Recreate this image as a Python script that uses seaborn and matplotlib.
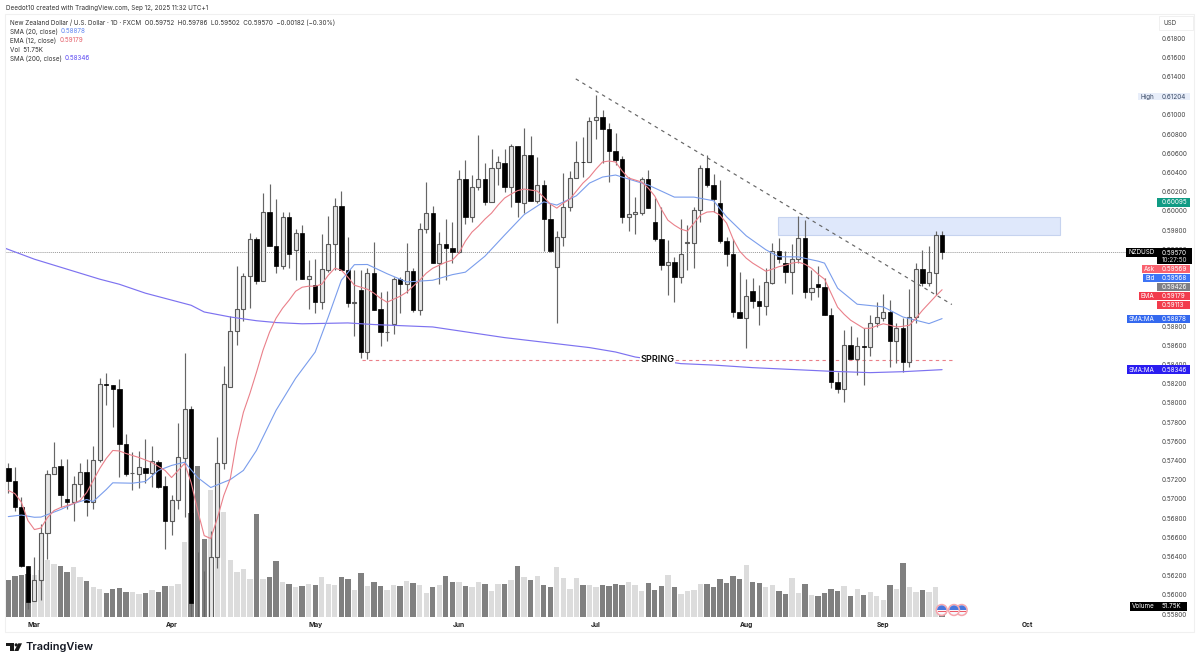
import numpy as np
import pandas as pd
import matplotlib
matplotlib.use('Agg')
import matplotlib.pyplot as plt
from matplotlib.patches import Rectangle, Circle, Polygon, Wedge
from matplotlib.transforms import Affine2D
import seaborn as sns

# daily candles
open_prices = [
    .57317, .57191, .56913, .56304, .55939, .56158, .56641, .57254, .57337, .57003,
    .56965, .57150, .57275, .56972, .57400, .58193, .58182, .58141, .57567, .57267,
    .57264, .57319, .57267, .57382, .57139, .56774, .56983, .57421, .57932, .5565,
    .5560, .5550, .56391, .57369, .58162, .58746, .58976, .59323, .59706, .59268,
    .59988, .59633, .59427, .59936, .59591, .59772, .59289, .59226, .59049, .59383,
    .59654, .60054, .59383, .59044, .59174, .58530, .59351, .58976, .58734, .58819,
    .59289, .59236, .59375, .58965, .59810, .59977, .59459, .59654, .59612, .59574,
    .60332, .59939, .60249, .60332, .60095, .60447, .60502, .60252, .60676, .60082,
    .60583, .60106, .60270, .59915, .59417, .59727, .60043, .60343, .60513, .60510,
    .60948, .60976, .60854, .60627, .60541, .59936, .59967, .59980, .60332, .59887,
    .59706, .59438, .59463, .59309, .59670, .59667, .60009, .60450, .60270, .60085,
    .59685, .59549, .58944, .58882, .59166, .59062, .59007, .59250, .59581, .59459,
    .59362, .59494, .59716, .59153, .59240, .59212, .58913, .58217, .58148, .58607,
    .58461, .58597, .58579, .58833, .58889, .58944, .58645, .58777, .58426, .58895,
    .59396, .59244, .59354, .59752]
high_prices = [
    .57369, .57327, .57014, .56304, .56398, .56743, .57296, .57591, .57410, .57420,
    .57243, .57369, .57410, .57546, .58256, .58308, .58182, .58245, .57671, .57483,
    .57494, .57619, .57549, .57400, .57243, .57035, .57789, .58520, .57963, .56445,
    .56252, .56669, .57643, .58381, .58903, .59424, .59354, .59772, .59727, .60186,
    .60280, .60123, .59991, .59991, .59810, .59852, .59487, .59497, .59758, .59949,
    .60134, .60210, .59730, .59383, .59383, .59407, .59678, .59153, .59166, .59313,
    .59313, .59667, .59403, .59876, .60304, .60050, .59782, .59915, .59887, .60426,
    .60530, .60374, .60791, .60499, .60645, .60572, .60645, .60697, .60676, .60867,
    .60781, .60562, .60322, .60082, .59793, .60398, .60416, .60732, .60770, .60979,
    .61204, .61052, .60920, .60815, .60572, .60356, .60144, .60356, .60426, .60134,
    .60043, .59696, .59521, .59915, .59852, .60043, .60478, .60583, .60384, .60322,
    .59730, .59706, .59365, .59289, .59302, .59226, .59403, .59664, .59716, .59581,
    .59654, .59949, .59904, .59383, .59427, .59299, .58986, .58321, .58756, .58798,
    .58683, .58777, .58913, .59052, .59139, .59070, .58830, .58882, .59184, .59456,
    .59591, .59633, .59790, .59786]
low_prices = [
    .57066, .56878, .56287, .55856, .55939, .55949, .56377, .57254, .56913, .56899,
    .56764, .57014, .56816, .56899, .57379, .57974, .57744, .57223, .57233, .57087,
    .57108, .57160, .57121, .57108, .56482, .56628, .56899, .56808, .55762, .5500,
    .5490, .5500, .56283, .57306, .58162, .58600, .58850, .58986, .59236, .59268,
    .59633, .59351, .59393, .59403, .59278, .59289, .58976, .58934, .58976, .59362,
    .59383, .59383, .59000, .58697, .58464, .58454, .58965, .58593, .58645, .58715,
    .58934, .59143, .58944, .58913, .59772, .59459, .59236, .59278, .59459, .59560,
    .59863, .59887, .60217, .60061, .60095, .60270, .60200, .60043, .59939, .59980,
    .60106, .60082, .59584, .59574, .58829, .59633, .59998, .60343, .60356, .60510,
    .60750, .60499, .60304, .60478, .59876, .59793, .59758, .59956, .60029, .59688,
    .59383, .59122, .59052, .59247, .59383, .59403, .59887, .60252, .59991, .59667,
    .59424, .58892, .58882, .58569, .58986, .58809, .58913, .59236, .59459, .59250,
    .59132, .59459, .59090, .59070, .59101, .58913, .58151, .58102, .58005, .58461,
    .58287, .58182, .58485, .58791, .58854, .58373, .58412, .58321, .58373, .58830,
    .59216, .59216, .59122, .59502]
close_prices = [
    .57191, .56920, .56304, .55928, .56158, .56641, .57254, .57330, .57045, .56965,
    .57150, .57275, .56972, .57400, .58193, .58188, .58141, .57567, .57264, .57272,
    .57327, .57267, .57390, .57121, .56774, .56993, .57431, .57932, .55911, .5545,
    .5530, .56391, .57369, .58193, .58746, .58976, .59323, .59706, .59268, .59988,
    .59633, .59427, .59936, .59549, .59772, .59289, .59323, .59049, .59393, .59654,
    .60054, .59383, .59038, .59049, .58530, .59351, .58965, .58736, .58739, .59289,
    .59236, .59375, .58965, .59810, .59977, .59459, .59654, .59612, .59574, .60332,
    .59939, .60252, .60332, .60095, .60450, .60510, .60252, .60676, .60095, .60583,
    .60106, .60273, .59915, .59584, .59727, .60043, .60346, .60513, .60508, .60940,
    .60976, .60851, .60627, .60530, .59936, .59967, .59988, .60332, .60029, .59706,
    .59435, .59463, .59309, .59549, .59675, .60009, .60450, .60270, .60123, .59685,
    .59549, .58944, .58882, .59114, .59062, .59007, .59257, .59584, .59494, .59362,
    .59494, .59716, .59153, .59195, .59212, .58913, .58217, .58148, .58607, .58461,
    .58597, .58582, .58833, .58895, .58944, .58645, .58777, .58426, .58895, .59396,
    .59244, .59359, .59748, .59570]
# volume in thousands
volumes = [
    183, 202, 207, 210, 205, 230, 280, 263, 253, 222,
    247, 197, 178, 145, 138, 117, 138, 143, 123, 122,
    113, 118, 132, 122, 152, 152, 160, 372, 518, 750,
    388, 633, 425, 523, 280, 220, 235, 188, 510, 188,
    198, 275, 170, 160, 148, 152, 162, 158, 195, 160,
    155, 197, 187, 132, 215, 152, 173, 152, 130, 157,
    152, 177, 168, 157, 117, 147, 157, 200, 170, 170,
    150, 147, 172, 162, 127, 162, 160, 183, 250, 195,
    182, 202, 155, 147, 245, 190, 135, 190, 155, 157,
    148, 157, 152, 160, 155, 173, 155, 127, 165, 133,
    152, 207, 145, 112, 127, 132, 160, 163, 147, 188,
    168, 200, 188, 258, 170, 165, 147, 155, 128, 113,
    192, 118, 160, 107, 103, 115, 138, 127, 152, 102,
    135, 107, 122, 103, 82, 157, 137, 268, 147, 123,
    130, 122, 147, 51.75]
ema12 = [
    .57087, .57055, .56965, .56774, .56680, .56696, .56805, .56878, .56909, .56930,
    .56951, .56983, .57066, .57191, .57316, .57421, .57504, .57499, .57473, .57452,
    .57431, .57405, .57379, .57337, .57296, .57222, .57296, .57369, .57170, .56878,
    .56617, .56586, .56795, .57035, .57212, .57609, .57901, .58099, .58318, .58548,
    .58736, .58882, .58986, .59070, .59163, .59205, .59216, .59216, .59236, .59330,
    .59403, .59383, .59310, .59226, .59205, .59184, .59143, .59090, .59049, .59080,
    .59111, .59153, .59216, .59278, .59351, .59403, .59435, .59466, .59487, .59560,
    .59685, .59779, .59842, .59915, .59977, .60061, .60134, .60176, .60212, .60228,
    .60217, .60207, .60144, .60071, .60029, .60082, .60123, .60207, .60290, .60353,
    .60436, .60510, .60520, .60510, .60416, .60343, .60322, .60301, .60238, .60155,
    .60019, .59904, .59852, .59810, .59790, .59873, .59956, .59988, .59993, .59956,
    .59873, .59706, .59581, .59508, .59456, .59414, .59372, .59393, .59419, .59435,
    .59456, .59466, .59445, .59403, .59341, .59289, .59143, .58997, .58923, .58861,
    .58819, .58777, .58777, .58803, .58824, .58809, .58791, .58798, .58809, .58882,
    .58965, .59038, .59111, .59179]
sma20_bars = [
    0, 2, 4, 5, 8, 10, 12, 13, 15, 16, 19, 21, 23, 25, 27, 29, 31, 34, 36, 38, 41, 44,
    47, 49, 51, 53, 55, 58, 61, 65, 68, 70, 73, 76, 79, 82, 84, 87, 89, 91, 93, 95,
    98, 102, 105, 108, 110, 113, 116, 118, 121, 124, 125, 127, 130, 134, 137, 139, 141, 143]
sma20 = [
    .56815, .56831, .56808, .56810, .56888, .56951, .56993, .56972, .57097, .57167,
    .57163, .57181, .57296, .57348, .57382, .57222, .57118, .57201, .57296, .57504,
    .57922, .58256, .58530, .58895, .59278, .59440, .59442, .59346, .59260, .59278,
    .59336, .59362, .59529, .59748, .59962, .60095, .60061, .60158, .60290, .60353,
    .60374, .60332, .60270, .60144, .60144, .60106, .59939, .59741, .59596, .59523,
    .59521, .59477, .59456, .59195, .59028, .59000, .58895, .58861, .58826, .58878]
sma200_bars = [
    -0.4, 4, 14, 17, 21, 28, 30, 34, 38, 41, 45, 52, 56, 65, 76, 89, 93, 96, 103, 108,
    114, 126, 132, 137, 143]
sma200 = [
    .59609, .59497, .59289, .59236, .59143, .59017, .58947, .58895, .58856, .58837,
    .58824, .58833, .58816, .58791, .58680, .58576, .58530, .58478, .58409, .58394,
    .58367, .58329, .58315, .58325, .58346]

month_bars = [4, 25, 47, 69, 90, 113, 134, 156]
month_labels = ['Mar', 'Apr', 'May', 'Jun', 'Jul', 'Aug', 'Sep', 'Oct']
price_ticks = [round(0.558 + 0.002 * i, 3) for i in range(31)]
covered_ticks = [0.594, 0.592, 0.590]  # sit fully behind the price badges
last_price = 0.59570

trend_bars = [86.9, 144.5]
trend_prices = [0.61376, 0.59025]
zone_bars = [117.9, 161.0]
zone_prices = [0.59750, 0.59938]
spring_bars = [54.1, 145.0]
spring_price = 0.58450
spring_label_bar = 99.4

sns.set_theme(style='white')
plt.rcParams['font.family'] = ['Inter', 'DejaVu Sans']

W, H = 1200, 663
fig = plt.figure(figsize=(W / 100, H / 100), dpi=100, facecolor='white')
px = Affine2D().scale(1, -1).translate(0, H)  # top-left pixel coords
TXT = 4.55


def axes_rect(x0, y0, x1, y1):
    return [x0 / W, 1 - y1 / H, (x1 - x0) / W, (y1 - y0) / H]


def box(x0, y0, x1, y1, color, ec='none', lw=0, z=5):
    fig.add_artist(Rectangle((x0, y0), x1 - x0, y1 - y0, transform=px, fc=color, ec=ec, lw=lw, zorder=z))


def label(x, y, s, color='#333333', size=TXT, ha='left', weight='normal', z=6):
    fig.text(x, y, s, transform=px, color=color, fontsize=size, ha=ha, va='center', fontweight=weight, zorder=z)


# panel frame
box(5.3, 14, 1194, 631.7, 'none', ec='#f0f0f0', lw=0.8, z=0)

rect = axes_rect(5.5, 14, 1156, 616.5)
vax = fig.add_axes(rect, zorder=1)
ax = fig.add_axes(rect, zorder=2)
ax.patch.set_alpha(0)

bars = list(range(len(open_prices)))
xlim = (-0.43, 175.76)

# volume
vol_df = pd.DataFrame({'bar': bars, 'vol': volumes,
                       'side': ['down' if c < o else 'up' for o, c in zip(open_prices, close_prices)]})
sns.barplot(data=vol_df, x='bar', y='vol', hue='side', palette={'down': '#808080', 'up': '#dcdcdc'},
            native_scale=True, dodge=False, width=0.82, legend=False, saturation=1, linewidth=0, ax=vax)
vax.set_xlim(xlim)
vax.set_ylim(0, 3012)
vax.axis('off')

# levels
ax.add_patch(Rectangle((zone_bars[0], zone_prices[0]), zone_bars[1] - zone_bars[0], zone_prices[1] - zone_prices[0],
                       fc='#dfe8fb', ec='#c6d3ef', lw=0.8, zorder=1))
ax.axhline(last_price, color='#999999', ls=(0, (1, 1)), lw=0.7, zorder=1.5)
ax.plot(spring_bars, [spring_price, spring_price], color='#ea7f88', ls=(0, (3, 3)), lw=0.8, zorder=1.5)

# moving averages on top of the candles
line_kw = dict(ax=ax, errorbar=None, legend=False, zorder=4, sort=False)
sns.lineplot(x=sma200_bars, y=sma200, color='#7d72f0', lw=0.85, **line_kw)
sns.lineplot(x=sma20_bars, y=sma20, color='#7a9dec', lw=0.8, **line_kw)
sns.lineplot(x=bars, y=ema12, color='#ea808a', lw=0.8, **line_kw)

# candles
for b, o, h, l, c in zip(bars, open_prices, high_prices, low_prices, close_prices):
    ax.vlines(b, l, h, color='#666666', lw=0.85, zorder=2)
    top, bot = max(o, c), min(o, c)
    if c < o:
        ax.bar(b, top - bot, bottom=bot, width=0.68, color='black', edgecolor='black', lw=0.5, zorder=3)
    else:
        ax.bar(b, top - bot, bottom=bot, width=0.62, color='#e6e6e6', edgecolor='#5a5a5a', lw=0.8, zorder=3)

# drawings
ax.plot(trend_bars, trend_prices, color='#666666', ls=(0, (3, 3.5)), lw=0.85, zorder=5)
ax.text(spring_label_bar, spring_price, 'SPRING', fontsize=6.6, fontweight='semibold', color='#111111',
        ha='center', va='center', zorder=6, bbox=dict(fc='white', ec='none', pad=0.6))

ax.set_xlim(xlim)
ax.set_ylim(0.55774, 0.62052)
for s in ax.spines.values():
    s.set_visible(False)
ax.yaxis.tick_right()
ax.set_yticks(price_ticks)
ax.set_yticklabels(['' if p in covered_ticks else f'{p:.5f}' for p in price_ticks])
ax.tick_params(axis='y', length=0, pad=4.1, labelsize=TXT, labelcolor='#444444')
ax.set_xticks(month_bars)
ax.set_xticklabels(month_labels, fontweight='bold')
ax.tick_params(axis='x', length=0, pad=3.9, labelsize=4.8, labelcolor='#222222')
ax.grid(False)
ax.set_xlabel('')
ax.set_ylabel('')

# header
label(5.6, 8, 'Deedot10 created with TradingView.com, Sep 12, 2025 11:32 UTC+1')
label(9.6, 22.3, 'New Zealand Dollar / U.S. Dollar · 1D · FXCM  O0.59752  H0.59786  L0.59502  C0.59570  \u22120.00182 (\u22120.30%)')
label(9.6, 31.3, 'SMA (20, close)')
label(61, 31.3, '0.58878', color='#5f86f2')
label(9.6, 40.3, 'EMA (12, close)')
label(59.4, 40.3, '0.59179', color='#e4606a')
label(9.6, 49.5, 'Vol  51.75K')
label(9.6, 58.5, 'SMA (200, close)')
label(64.4, 58.5, '0.58346', color='#5a48f2')

# price scale header
box(1159, 16, 1192.7, 30, 'white', ec='#eeeeee', lw=0.6, z=5)
label(1163.5, 23, 'USD', color='#444444')


def badge(y0, y1, value, color, tag=None, tag_x=None, txt='white', x1=1190):
    box(1157.3, y0, x1, y1, color)
    if value:
        label(1161.5, (y0 + y1) / 2, value, color=txt)
    if tag:
        box(tag_x, y0, 1156.7, y1, color)
        label((tag_x + 1156.7) / 2, (y0 + y1) / 2, tag, color=txt, ha='center')


badge(92.7, 100.4, '0.61204', '#e8eefa', 'High', 1138.3, txt='#3a4a66')
badge(198.3, 206.7, '0.60095', '#109b84')
box(1125.7, 248.3, 1156.7, 256.7, 'black')
label(1141.2, 252.5, 'NZDUSD', color='white', ha='center')
box(1157.3, 248.3, 1192, 264.3, 'black')
label(1161.5, 252.6, '0.59570', color='white')
label(1161.5, 260, '10:27:50', color='#dddddd')
badge(265, 273.3, '0.59569', '#f9616e', 'Ask', 1141.7)
badge(273.7, 282, '0.59568', '#3d74f5', 'Bid', 1142.7)
badge(282.7, 291, '0.59426', '#7f7f85')
badge(291.7, 300, '0.59179', '#f23b4c', 'EMA', 1138.7)
badge(300.7, 309, '0.59113', '#f23b4c')
badge(314.7, 323, '0.58878', '#3469ef', 'SMA:MA', 1126.7)
badge(365.3, 373.7, '0.58346', '#2a1cf0', 'SMA:MA', 1126.7)
badge(602, 610.7, '51.75K', 'black', 'Volume', 1130, x1=1187)


# economic event flags
def flag(cx, cy):
    fig.add_artist(Circle((cx, cy), 6.2, transform=px, fc='#f6a6ad', ec='none', zorder=7))
    fig.add_artist(Circle((cx, cy), 4.6, transform=px, fc='#f7f7fb', ec='none', zorder=7))
    fig.add_artist(Wedge((cx, cy), 4.6, 180, 360, transform=px, fc='#4a78dd', ec='none', zorder=7))
    fig.add_artist(Rectangle((cx - 4.2, cy + 0.6), 8.4, 1.2, transform=px, fc='#ec5a66', ec='none', zorder=7))
    fig.add_artist(Rectangle((cx - 3.2, cy + 2.6), 6.4, 0.8, transform=px, fc='#ec5a66', ec='none', zorder=7))


flag(961.7, 610)
flag(954, 610)
flag(941.7, 610)

# logo
logo = '#1a1a1a'
fig.add_artist(Polygon([(6, 643.3), (14.2, 643.3), (14.2, 651), (9.6, 651), (9.6, 646.2), (6, 646.2)],
                       transform=px, fc=logo, ec='none'))
fig.add_artist(Circle((16.2, 644.9), 1.6, transform=px, fc=logo, ec='none'))
fig.add_artist(Polygon([(18.3, 643.3), (22, 643.3), (18.4, 651), (14.2, 651)], transform=px, fc=logo, ec='none'))
label(25.6, 647.2, 'TradingView', color='#131722', size=7.9, weight='semibold')

fig.savefig('out.png', dpi=100)
